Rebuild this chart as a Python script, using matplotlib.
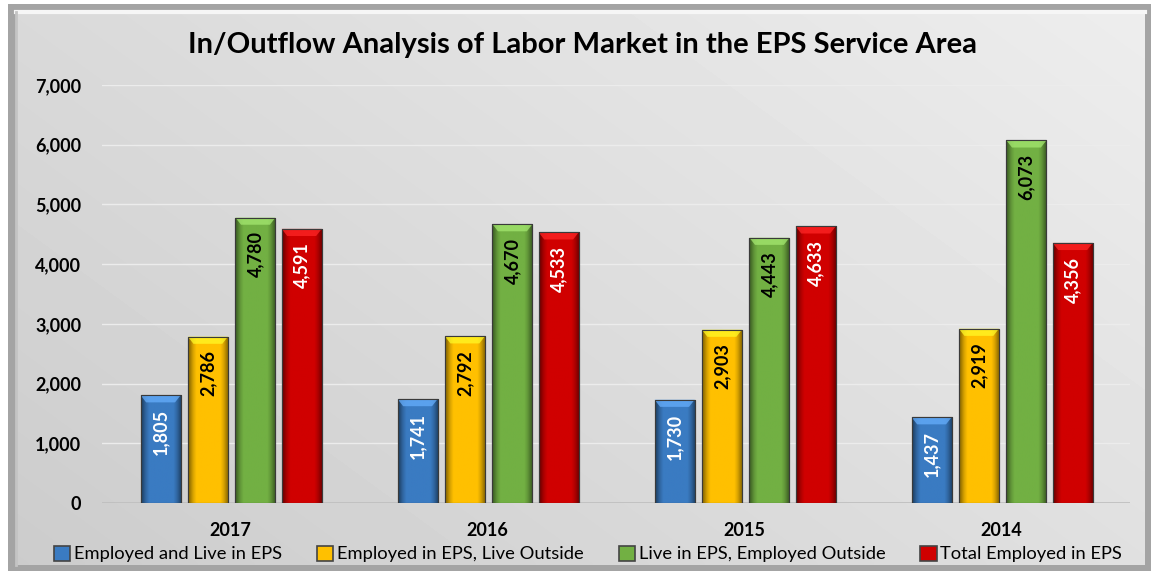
import numpy as np
import matplotlib
matplotlib.use("Agg")
import matplotlib.pyplot as plt
from matplotlib.patches import Rectangle, Polygon
from matplotlib.colors import LinearSegmentedColormap, to_rgb

categories = ["2017", "2016", "2015", "2014"]
series_names = ["Employed and Live in EPS", "Employed in EPS, Live Outside",
                "Live in EPS, Employed Outside", "Total Employed in EPS"]
employed_live = [1805, 1741, 1730, 1437]
employed_outside = [2786, 2792, 2903, 2919]
live_employed_outside = [4780, 4670, 4443, 6073]
total_employed = [4591, 4533, 4633, 4356]
series_values = [employed_live, employed_outside, live_employed_outside, total_employed]
colors = ["#3A7BC2", "#FFC000", "#72B043", "#D00000"]
label_colors = ["white", "black", "black", "white"]
yticks = [0, 1000, 2000, 3000, 4000, 5000, 6000, 7000]

plt.rcParams['font.family'] = ['Lato', 'DejaVu Sans']

W, H = 1157, 575
fig = plt.figure(figsize=(W / 100, H / 100), dpi=100)

# background with gradient and bevel frame
bg = fig.add_axes([0, 0, 1, 1])
bg.set_xlim(0, W); bg.set_ylim(H, 0); bg.axis("off")
bg.add_patch(Rectangle((0, 0), W, H, color="white", zorder=0))
bg.add_patch(Rectangle((8, 4), W - 14, H - 8, facecolor="#a4a4a4", edgecolor="none", zorder=1))
gx = np.linspace(0, 1, 300)
gy = np.linspace(0, 1, 150)
X, Y = np.meshgrid(gx, gy)
G = 0.80 + 0.13 * (0.6 * X + 0.4 * (1 - Y))
bg.imshow(G, cmap="gray", vmin=0, vmax=1, extent=(16, W - 12, H - 10, 12),
          aspect="auto", zorder=2, interpolation="bilinear")
bg.plot([16, W - 12], [12, 12], color="#f6f6f6", lw=3, zorder=3)
bg.plot([16, 16], [12, H - 10], color="#c4c4c4", lw=2, zorder=3)

ax = fig.add_axes([102 / W, 1 - 503 / H, (1130 - 102) / W, (503 - 85) / H])
ax.patch.set_alpha(0)
ax.set_xlim(-0.5, len(categories) - 0.5)
ax.set_ylim(0, 7000)
ax.set_yticks(yticks)
ax.set_yticklabels([f"{v:,}" for v in yticks], fontsize=13, fontweight="bold")
ax.set_xticks(range(len(categories)))
ax.set_xticklabels(categories, fontsize=13, fontweight="bold")
ax.tick_params(axis="y", length=0, pad=15)
ax.tick_params(axis="x", length=0, pad=14)
for s in ax.spines.values():
    s.set_visible(False)
ax.grid(axis="y", color="#ececec", lw=1)
ax.set_axisbelow(True)
ax.axhline(0, color="#bdbdbd", lw=1.2, zorder=1)

offsets = [-0.272, -0.088, 0.097, 0.277]
width = 0.156
x = np.arange(len(categories))
handles = []
for i, (vals, c) in enumerate(zip(series_values, colors)):
    bars = ax.bar(x + offsets[i], vals, width, color=c, edgecolor="#3a3a3a",
                  linewidth=0.8, zorder=3, label=series_names[i])
    handles.append(bars)
    base = np.array(to_rgb(c))
    cmap = LinearSegmentedColormap.from_list(
        "g", [(0.0, base * 0.5), (0.12, base * 0.85), (0.2, base), (0.8, base),
              (0.88, base * 0.85), (1.0, base * 0.5)])
    light = np.minimum(base * 1.1 + 0.15, 1)
    for b in bars:
        bx, bw, bh = b.get_x(), b.get_width(), b.get_height()
        im = ax.imshow(np.linspace(0, 1, 64)[None, :], cmap=cmap, aspect="auto",
                       extent=(bx, bx + bw, 0, bh), zorder=3.5, interpolation="bilinear")
        im.set_clip_path(b)
        inset = bw * 0.14
        bev = 120
        ax.add_patch(Polygon([(bx, bh), (bx + bw, bh), (bx + bw - inset, bh - bev),
                              (bx + inset, bh - bev)], closed=True,
                             facecolor=light, edgecolor="none", alpha=0.75, zorder=3.6))
        ax.add_patch(Rectangle((bx, 0), bw, bh, facecolor="none",
                               edgecolor="#3a3a3a", lw=0.8, zorder=3.7))
        ax.text(bx + bw / 2, bh - 230, f"{int(bh):,}", rotation=90, ha="center", va="top",
                color=label_colors[i], fontsize=13, fontweight="bold", zorder=4)

ax.set_xlim(-0.5, len(categories) - 0.5)
ax.set_ylim(0, 7000)

fig.text(583 / W, 1 - 45 / H, "In/Outflow Analysis of Labor Market in the EPS Service Area",
         ha="center", va="center", fontsize=21, fontweight="bold")

leg = fig.legend(handles, series_names, loc="center", bbox_to_anchor=(588 / W, 1 - 554 / H),
                 ncol=4, frameon=False, fontsize=13.2, handlelength=0.9, handleheight=0.9,
                 handletextpad=0.2, columnspacing=1.9)
for h in leg.legend_handles:
    h.set_edgecolor("#444444")
    h.set_linewidth(1.2)

fig.savefig("out.png", dpi=100)
